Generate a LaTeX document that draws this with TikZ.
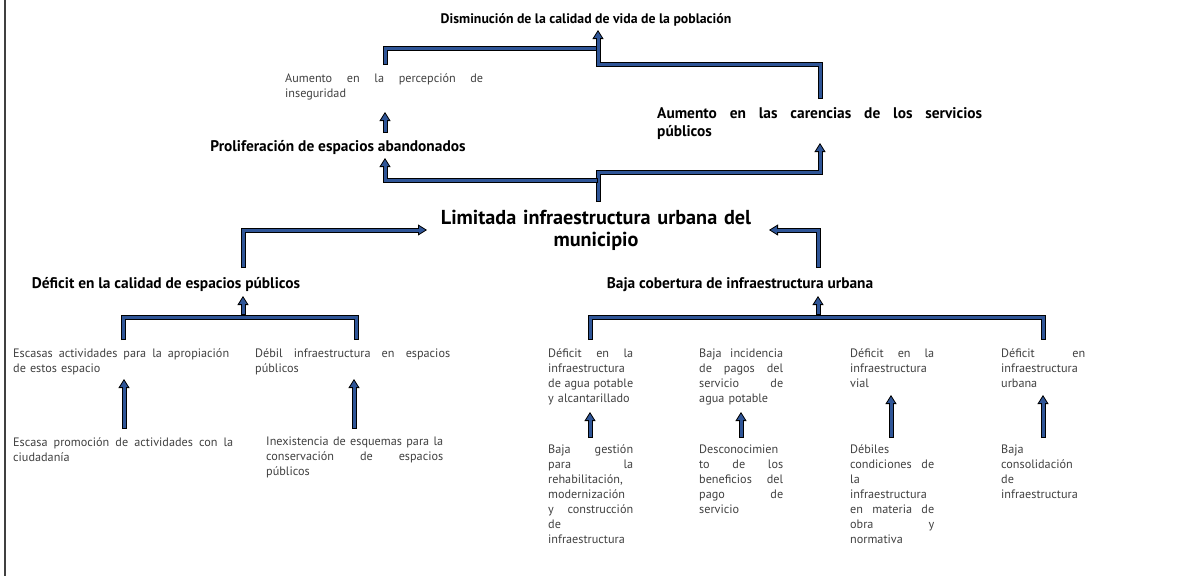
\documentclass[tikz,border=0pt]{standalone}
\usepackage{fontspec}
\setmainfont{PT Sans}
\usetikzlibrary{arrows.meta}
\definecolor{arbolblue}{RGB}{47,85,151}
\definecolor{arbolgray}{RGB}{64,64,64}
\newcommand{\jl}[1]{\leavevmode\hbox to\hsize{\spaceskip=0.25em plus 1fill\relax#1\hskip 0pt plus 1fil}\\}

\begin{document}
\begin{tikzpicture}[x=1pt,y=-1pt,
    body/.style={anchor=base west,inner sep=0pt,align=left,text=arbolgray,font=\fontsize{12.2}{15}\selectfont},
    head/.style={anchor=base,inner sep=0pt,font=\bfseries\fontsize{15.4}{18}\selectfont},
    flowline/.style={line width=5pt,line join=miter,postaction={draw=arbolblue,line width=3pt,shorten <=1pt,shorten >=1pt}},
    flow/.style={line width=5pt,line join=miter,-{Triangle[length=9pt,width=11pt,fill=arbolblue,line width=0.8pt]},
      postaction={draw=arbolblue,line width=3pt,-,shorten <=1pt,shorten >=5pt}}]
    \useasboundingbox (0,0) rectangle (1181,576);
    \draw[arbolgray,line width=1.3pt] (5,0) -- (5,576);
    % efectos
    \node[head,font=\bfseries\fontsize{13.8}{17}\selectfont] (vida) at (586,23) {Disminución de la calidad de vida de la población};
    \node[body,text width=198] (inseg) at (285,82) {\jl{Aumento en la percepción de}inseguridad};
    \node[body,text width=325,text=black,font=\bfseries\fontsize{15.4}{18}\selectfont] (carencias) at (657,118) {\jl{Aumento en las carencias de los servicios}públicos};
    \node[head] (prolif) at (338,151) {Proliferación de espacios abandonados};
    % problema central
    \node[body,anchor=base,text width=330,align=center,text=black,font=\bfseries\fontsize{20.2}{22}\selectfont] (limitada) at (596,224) {Limitada infraestructura urbana del\\municipio};
    % causas
    \node[head] (defcal) at (166,288) {Déficit en la calidad de espacios públicos};
    \node[head] (bajacob) at (740,288) {Baja cobertura de infraestructura urbana};
    \node[body,text width=216] (escasas) at (13,357) {\jl{Escasas actividades para la apropiación}de estos espacio};
    \node[body,text width=195] (debil) at (255,357) {\jl{Débil infraestructura en espacios}públicos};
    \node[body,text width=220] (promo) at (13,446) {\jl{Escasa promoción de actividades con la}ciudadanía};
    \node[body,text width=177] (inex) at (266,445) {\jl{Inexistencia de esquemas para la}\jl{conservación de espacios}públicos};
    \node[body,text width=85] (agua) at (548,357) {\jl{Déficit en la}\jl{infraestructura}\jl{de agua potable}y alcantarillado};
    \node[body,text width=84] (pagos) at (699,357) {\jl{Baja incidencia}\jl{de pagos del}\jl{servicio de}agua potable};
    \node[body,text width=84] (vial) at (850,357) {\jl{Déficit en la}\jl{infraestructura}vial};
    \node[body,text width=84] (urbana) at (1001,357) {\jl{Déficit en}\jl{infraestructura}urbana};
    \node[body,text width=85] (gestion) at (548,453) {\jl{Baja gestión}\jl{para la}\jl{rehabilitación,}\jl{modernización}\jl{y construcción}\jl{de}infraestructura};
    \node[body,text width=84] (descon) at (699,453) {\jl{Desconocimien}\jl{to de los}\jl{beneficios del}\jl{pago de}servicio};
    \node[body,text width=84] (debiles) at (850,453) {\jl{Débiles}\jl{condiciones de}\jl{la}\jl{infraestructura}\jl{en materia de}\jl{obra y}normativa};
    \node[body,text width=84] (consol) at (1001,453) {\jl{Baja}\jl{consolidación}\jl{de}infraestructura};
    % conectores
    \coordinate (t1) at (385,65);  \coordinate (t2) at (598,48);
    \coordinate (t3) at (820,99);  \coordinate (t4) at (598,30);
    \coordinate (p1) at (385,133); \coordinate (p2) at (385,112);
    \coordinate (m0) at (598,202); \coordinate (m1) at (820,143); \coordinate (m2) at (385,158);
    \coordinate (l1) at (243,268); \coordinate (l2) at (427,230);
    \coordinate (r1) at (818,268); \coordinate (r2) at (769,230);
    \draw[flowline] (t1) |- (t2);
    \draw[flow] (t3) -- ++(0,-35) -| (t4);
    \draw[flow] (p1) -- (p2);
    \draw[flow] (m0) -- ++(0,-30) -| (m1);
    \draw[flow] (m0) ++(0,-22) -| (m2);
    \draw[flow] (l1) |- (l2);
    \draw[flow] (r1) |- (r2);
    \coordinate (h1) at (123,340); \coordinate (h2) at (356,340);
    \coordinate (h3) at (243,315); \coordinate (h4) at (243,296);
    \draw[flow] (h3) -- (h4);
    \draw[flowline] (h1) -- ++(0,-23) -| (h2);
    \coordinate (k1) at (590,340); \coordinate (k2) at (1043,340);
    \coordinate (k3) at (818,315); \coordinate (k4) at (818,296);
    \draw[flow] (k3) -- (k4);
    \draw[flowline] (k1) -- ++(0,-23) -| (k2);
    \foreach \xa/\ya/\yb in {124/429/379,354/429/379,590/438/412,741/438/412,891/438/395,1043/438/395}
      \draw[flow] (\xa,\ya) -- (\xa,\yb);
\end{tikzpicture}
\end{document}
